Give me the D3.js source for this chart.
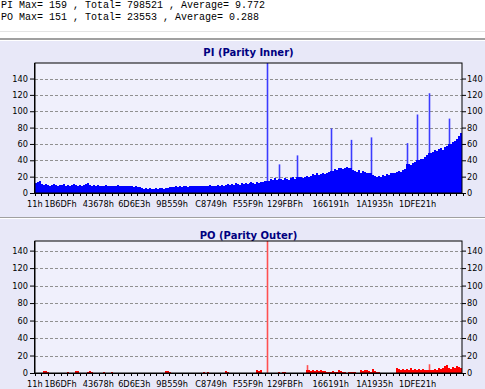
<!DOCTYPE html>
<html>
<head>
<meta charset="utf-8">
<script src="https://cdn.jsdelivr.net/npm/d3@7/dist/d3.min.js"></script>
<style>
  html, body { margin: 0; padding: 0; background: #fff; }
  svg { display: block; }
  .hdr { font-family: "Liberation Mono", "DejaVu Sans Mono", monospace; font-size: 10px; fill: #000; }
  .title { font-family: "DejaVu Sans", sans-serif; font-size: 10px; font-weight: bold; fill: #000080; }
  .axis text { font-family: "DejaVu Sans", sans-serif; font-size: 8.2px; fill: #000; }
</style>
</head>
<body>
<div id="chart"></div>
<script>
// summary lines printed above the charts
const summaryLines = [
  'PI Max= 159 , Total= 798521 , Average= 9.772',
  'PO Max= 151 , Total= 23553 , Average= 0.288'
];

// x axis: sector labels and the sample index where each one sits
const xLabels = ['11h', '1B6DFh', '43678h', '6D6E3h', '9B559h', 'C8749h', 'F55F9h', '129FBFh', '166191h', '1A1935h', '1DFE21h'];
const xLabelIdx = [-0.3, 12.6, 31.5, 49.5, 68.5, 88, 106.5, 125, 148, 170, 191.5];

const yTicks = [0, 20, 40, 60, 80, 100, 120, 140];

// PI (parity inner) per sample
const piValues = [
  12, 14, 15, 11, 10, 11, 10, 9, 10, 11, 10, 9, 10, 10, 11, 9, 10, 9, 10, 11,
  10, 9, 10, 9, 10, 11, 12, 10, 9, 10, 9, 10, 9, 9, 9, 10, 9, 8, 9, 8,
  9, 10, 9, 8, 9, 8, 8, 9, 8, 7, 8, 7, 7, 6, 5, 6, 5, 6, 5, 5,
  6, 5, 6, 6, 5, 6, 6, 7, 7, 7, 8, 7, 8, 7, 8, 8, 7, 8, 9, 8,
  8, 9, 8, 9, 8, 9, 9, 10, 9, 8, 9, 10, 9, 10, 9, 10, 11, 10, 11, 10,
  12, 11, 10, 12, 11, 12, 11, 12, 13, 12, 11, 13, 12, 14, 13, 15, 159, 15, 17, 16,
  18, 16, 35, 17, 16, 18, 17, 16, 18, 19, 17, 46, 19, 20, 18, 19, 21, 20, 21, 23,
  22, 24, 22, 23, 25, 23, 24, 26, 79, 27, 29, 28, 30, 31, 29, 30, 32, 31, 65, 28,
  27, 26, 28, 25, 27, 26, 25, 24, 68, 22, 21, 20, 21, 20, 22, 21, 23, 22, 24, 25,
  24, 26, 27, 26, 28, 29, 61, 35, 34, 37, 38, 96, 40, 42, 41, 44, 46, 122, 49, 50,
  52, 51, 54, 55, 53, 56, 58, 91, 60, 62, 64, 66, 70, 73
];

// PO (parity outer) per sample
const poValues = [
  0, 0, 0, 0, 2, 2, 1, 0, 0, 0, 0, 0, 0, 0, 0, 0, 1, 0, 0, 0,
  2, 2, 0, 0, 0, 0, 1, 2, 1, 0, 0, 0, 0, 0, 1, 0, 0, 0, 1, 0,
  0, 0, 0, 0, 0, 0, 0, 0, 0, 0, 0, 0, 0, 0, 0, 0, 0, 0, 0, 0,
  0, 0, 0, 0, 0, 2, 2, 1, 0, 0, 0, 0, 0, 0, 0, 0, 0, 0, 0, 0,
  0, 0, 0, 0, 1, 0, 1, 0, 0, 0, 0, 0, 0, 0, 0, 2, 1, 0, 0, 0,
  0, 0, 0, 0, 0, 0, 0, 0, 0, 0, 0, 3, 2, 3, 0, 0, 151, 0, 0, 0,
  0, 0, 1, 0, 1, 1, 0, 0, 0, 0, 0, 0, 0, 0, 0, 0, 9, 3, 2, 3,
  2, 3, 2, 3, 2, 2, 1, 1, 1, 2, 1, 1, 4, 2, 1, 1, 0, 1, 1, 1,
  1, 0, 0, 3, 2, 3, 3, 2, 1, 5, 2, 1, 1, 0, 0, 0, 0, 0, 0, 0,
  0, 6, 5, 4, 5, 4, 5, 4, 6, 4, 5, 4, 5, 4, 5, 4, 4, 10, 4, 3,
  5, 4, 6, 5, 6, 8, 9, 6, 5, 7, 6, 8, 7, 6
];

const W = 485, H = 389;
const plotLeft = 35, plotRight = 462;

const svg = d3.select('#chart').append('svg')
  .attr('width', W)
  .attr('height', H);

// header
svg.append('rect').attr('width', W).attr('height', 38).attr('fill', '#fff');
svg.append('line')
  .attr('x1', 0).attr('x2', W).attr('y1', 31.5).attr('y2', 31.5)
  .attr('stroke', '#e4e4e4');
svg.selectAll('.hdr')
  .data(summaryLines)
  .enter().append('text')
  .attr('class', 'hdr')
  .attr('x', 1)
  .attr('y', (d, i) => 8 + i * 12)
  .attr('xml:space', 'preserve')
  .text(d => d);

function drawPanel(cfg) {
  const g = svg.append('g');

  // panel background with separator lines above it
  g.append('rect')
    .attr('x', 0).attr('y', cfg.top)
    .attr('width', W).attr('height', cfg.bottom - cfg.top)
    .attr('fill', '#e8e8f8');
  g.append('rect')
    .attr('x', 0).attr('y', cfg.top)
    .attr('width', W).attr('height', cfg.sepHeight)
    .attr('fill', '#a0a0a0');
  g.append('line')
    .attr('x1', 0).attr('x2', W)
    .attr('y1', cfg.top + cfg.sepHeight + 0.5).attr('y2', cfg.top + cfg.sepHeight + 0.5)
    .attr('stroke', '#ffffff');

  g.append('text')
    .attr('class', 'title')
    .attr('x', (plotLeft + plotRight) / 2)
    .attr('y', cfg.titleY)
    .attr('text-anchor', 'middle')
    .text(cfg.title);

  const x = d3.scaleLinear()
    .domain([0, cfg.values.length])
    .range([plotLeft, plotRight]);
  const y = d3.scaleLinear()
    .domain([0, cfg.max])
    .range([cfg.plotBottom, cfg.plotTop]);

  g.append('rect')
    .attr('x', plotLeft).attr('y', cfg.plotTop)
    .attr('width', plotRight - plotLeft)
    .attr('height', cfg.plotBottom - cfg.plotTop)
    .attr('fill', '#f0f0fc');

  // dashed grid
  g.append('g')
    .selectAll('line')
    .data(yTicks.filter(t => t > 0))
    .enter().append('line')
    .attr('x1', plotLeft).attr('x2', plotRight)
    .attr('y1', d => Math.round(y(d)) + 0.5)
    .attr('y2', d => Math.round(y(d)) + 0.5)
    .attr('stroke', '#909090')
    .attr('stroke-dasharray', '3,2');

  // spikes stand above their neighbours: thin and a bit lighter
  const base = cfg.values.map((v, i) => {
    const nb = Math.max(cfg.values[i - 1] || 0, cfg.values[i + 1] || 0);
    return v > nb * 1.4 + 3 ? nb : v;
  });
  g.append('g')
    .selectAll('line')
    .data(cfg.values.map((v, i) => ({ v, i })).filter(d => d.v !== base[d.i]))
    .enter().append('line')
    .attr('x1', d => Math.round(x(d.i + 0.5)) + 0.5)
    .attr('x2', d => Math.round(x(d.i + 0.5)) + 0.5)
    .attr('y1', d => y(d.v))
    .attr('y2', cfg.plotBottom)
    .attr('stroke', cfg.spike)
    .attr('stroke-width', 1.6);

  // histogram as a stepped area
  const steps = base.concat([base[base.length - 1]]);
  const area = d3.area()
    .x((d, i) => x(i))
    .y0(y(0))
    .y1(d => y(d))
    .curve(d3.curveStepAfter);
  g.append('path')
    .datum(steps)
    .attr('d', area)
    .attr('fill', cfg.color)
    .attr('shape-rendering', 'crispEdges');

  // frame
  g.append('rect')
    .attr('x', plotLeft).attr('y', cfg.plotTop)
    .attr('width', plotRight - plotLeft)
    .attr('height', cfg.plotBottom - cfg.plotTop)
    .attr('fill', 'none')
    .attr('stroke', '#000')
    .attr('stroke-width', 1);
  g.append('line')
    .attr('x1', plotLeft - 0.5).attr('x2', plotLeft - 0.5)
    .attr('y1', cfg.plotTop).attr('y2', cfg.plotBottom + 1)
    .attr('stroke', '#000');
  g.append('line')
    .attr('x1', plotLeft - 1).attr('x2', plotRight)
    .attr('y1', cfg.plotBottom + 0.5).attr('y2', cfg.plotBottom + 0.5)
    .attr('stroke', '#000');

  // axes
  const left = g.append('g')
    .attr('class', 'axis')
    .attr('transform', `translate(${plotLeft - 1},0)`)
    .call(d3.axisLeft(y).tickValues(yTicks).tickSize(4).tickPadding(2));
  const right = g.append('g')
    .attr('class', 'axis')
    .attr('transform', `translate(${plotRight},0)`)
    .call(d3.axisRight(y).tickValues(yTicks).tickSize(4).tickPadding(1));
  [left, right].forEach(a => {
    a.select('.domain').remove();
    a.selectAll('.tick line').attr('stroke', '#000');
  });

  const minor = d3.range(0, cfg.values.length + 1, 3.2);
  g.append('g')
    .selectAll('line')
    .data(minor)
    .enter().append('line')
    .attr('x1', d => Math.round(x(d)) + 0.5)
    .attr('x2', d => Math.round(x(d)) + 0.5)
    .attr('y1', cfg.plotBottom)
    .attr('y2', cfg.plotBottom + 3)
    .attr('stroke', '#000');

  const bottom = g.append('g')
    .attr('class', 'axis')
    .attr('transform', `translate(0,${cfg.plotBottom + 1})`)
    .call(d3.axisBottom(x)
      .tickValues(xLabelIdx)
      .tickFormat((d, i) => xLabels[i])
      .tickSize(0)
      .tickPadding(7));
  bottom.select('.domain').remove();
}

drawPanel({
  title: 'PI (Parity Inner)', values: piValues, max: 159,
  top: 38, bottom: 217, sepHeight: 2, titleY: 56, plotTop: 63, plotBottom: 193,
  color: '#0000ff', spike: '#3c3cff'
});
drawPanel({
  title: 'PO (Parity Outer)', values: poValues, max: 151,
  top: 217, bottom: 389, sepHeight: 1, titleY: 239, plotTop: 241, plotBottom: 373,
  color: '#ff0000', spike: '#ff5050'
});
</script>
</body>
</html>
